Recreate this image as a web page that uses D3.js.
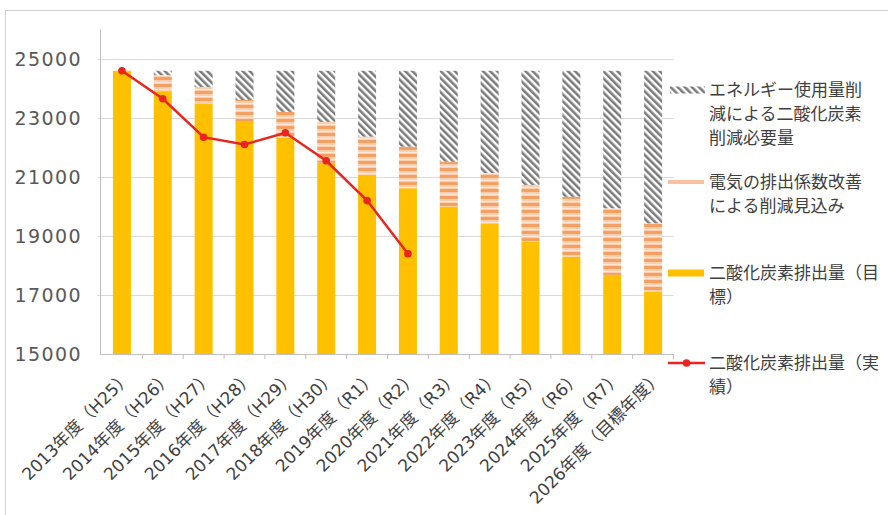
<!DOCTYPE html>
<html>
<head>
<meta charset="utf-8">
<script src="https://cdn.jsdelivr.net/npm/d3@7"></script>
<style>
    body { margin: 0; background: #fff; }
    text { font-family: "DejaVu Sans", "Noto Sans CJK JP", sans-serif; fill: #404040; }
</style>
</head>
<body>
<div id="chartArea"></div>
<script>
// Data

const categories = ["2013年度（H25）", "2014年度（H26）", "2015年度（H27）", "2016年度（H28）",
    "2017年度（H29）", "2018年度（H30）", "2019年度（R1）", "2020年度（R2）", "2021年度（R3）",
    "2022年度（R4）", "2023年度（R5）", "2024年度（R6）", "2025年度（R7）", "2026年度（目標年度）"];

// 二酸化炭素排出量（目標）
const targetEmission = [24600, 23900, 23500, 22870, 22330, 21480, 21070, 20620, 20000, 19430, 18810, 18300, 17680, 17110];
// 電気の排出係数改善による削減見込み
const gridReduction = [0, 550, 550, 740, 880, 1390, 1300, 1410, 1520, 1700, 1920, 2030, 2260, 2320];
// エネルギー使用量削減による二酸化炭素削減必要量
const energyReduction = [0, 150, 550, 990, 1390, 1730, 2230, 2570, 3080, 3470, 3870, 4270, 4660, 5170];
// 二酸化炭素排出量（実績）
const actualEmission = [24600, 23650, 22350, 22100, 22500, 21550, 20200, 18400];

const yTicks = [15000, 17000, 19000, 21000, 23000, 25000];

const legendLabels = [
    ["エネルギー使用量削", "減による二酸化炭素", "削減必要量"],
    ["電気の排出係数改善", "による削減見込み"],
    ["二酸化炭素排出量（目", "標）"],
    ["二酸化炭素排出量（実", "績）"]
];

// Dimensions

const width = 888,
    height = 515,
    plot = {
        left: 101.5,
        right: 673.5,
        top: 29.5,
        bottom: 354
    };

const yellow = "#ffc000",
    red = "#e8251f";

// Scales

const x = d3.scaleBand()
    .domain(categories)
    .range([plot.left, plot.right]);

const y = d3.scaleLinear()
    .domain([15000, 26000])
    .range([plot.bottom, plot.top]);

const yMin = y.domain()[0];
const barWidth = 18;

const rows = categories.map((c, i) => ({
    cat: c,
    target: targetEmission[i],
    grid: gridReduction[i],
    energy: energyReduction[i]
}));

const series = d3.stack().keys(["target", "grid", "energy"])(rows);
const fills = { target: yellow, grid: "url(#stripes)", energy: "url(#hatch)" };

// Svg

const svg = d3.select("#chartArea")
    .append("svg")
    .attr("width", width)
    .attr("height", height);

const defs = svg.append("defs");

const hatch = defs.append("pattern")
    .attr("id", "hatch")
    .attr("patternUnits", "userSpaceOnUse")
    .attr("width", 5)
    .attr("height", 5)
    .attr("patternTransform", "rotate(-45)");
hatch.append("rect").attr("width", 5).attr("height", 5).attr("fill", "#fff");
hatch.append("line")
    .attr("x1", 1.3).attr("x2", 1.3)
    .attr("y1", 0).attr("y2", 5)
    .attr("stroke", "#787878")
    .attr("stroke-width", 2.5);

const stripes = defs.append("pattern")
    .attr("id", "stripes")
    .attr("patternUnits", "userSpaceOnUse")
    .attr("width", 10)
    .attr("height", 7);
stripes.append("rect").attr("width", 10).attr("height", 7).attr("fill", "#fbcfb0");
stripes.append("rect").attr("width", 10).attr("height", 3).attr("fill", "#f4a062");
stripes.append("rect").attr("y", 5).attr("width", 10).attr("height", 1).attr("fill", "#fde9dc");

// Frame

svg.append("rect")
    .attr("x", 5.5)
    .attr("y", 10.5)
    .attr("width", 900)
    .attr("height", 520)
    .attr("fill", "#fff")
    .attr("stroke", "#d0d0d0");

// Grid

svg.append("g")
    .selectAll("line")
    .data(yTicks.slice(1))
    .join("line")
    .attr("x1", plot.left - 4)
    .attr("x2", plot.right)
    .attr("y1", d => Math.round(y(d)) + 0.5)
    .attr("y2", d => Math.round(y(d)) + 0.5)
    .attr("stroke", "#d9d9d9");

// Y axis

svg.append("line")
    .attr("x1", 100.5).attr("x2", 100.5)
    .attr("y1", plot.top).attr("y2", plot.bottom)
    .attr("stroke", "#bfbfbf");

svg.append("g")
    .selectAll("text")
    .data(yTicks)
    .join("text")
    .attr("x", 82)
    .attr("y", d => y(d))
    .attr("dy", "0.36em")
    .attr("text-anchor", "end")
    .style("font-size", "19px")
    .style("letter-spacing", "1.4px")
    .style("fill", "#595959")
    .text(d => d);

// Bars

svg.append("g")
    .selectAll("g")
    .data(series)
    .join("g")
    .attr("fill", d => fills[d.key])
    .selectAll("rect")
    .data(d => d)
    .join("rect")
    .attr("x", d => x(d.data.cat) + x.bandwidth() / 2 - barWidth / 2)
    .attr("y", d => y(d[1]))
    .attr("width", barWidth)
    .attr("height", d => y(Math.max(d[0], yMin)) - y(d[1]));

// X axis

svg.append("line")
    .attr("x1", 100).attr("x2", plot.right)
    .attr("y1", plot.bottom + 0.5).attr("y2", plot.bottom + 0.5)
    .attr("stroke", "#bfbfbf");

svg.append("g")
    .selectAll("line")
    .data(categories)
    .join("line")
    .attr("x1", d => x(d) + x.bandwidth())
    .attr("x2", d => x(d) + x.bandwidth())
    .attr("y1", plot.bottom)
    .attr("y2", plot.bottom + 5)
    .attr("stroke", "#bfbfbf");

svg.append("g")
    .selectAll("text")
    .data(categories)
    .join("text")
    .attr("text-anchor", "end")
    .attr("transform", d => `translate(${x(d) + x.bandwidth() / 2 + 6}, 374) rotate(-45)`)
    .attr("dy", "0.36em")
    .style("font-size", "17px")
    .text(d => d);

// Actual line

const line = d3.line()
    .x((d, i) => x(categories[i]) + x.bandwidth() / 2)
    .y(d => y(d));

svg.append("path")
    .datum(actualEmission)
    .attr("d", line)
    .attr("fill", "none")
    .attr("stroke", red)
    .attr("stroke-width", 2.5);

svg.append("g")
    .selectAll("circle")
    .data(actualEmission)
    .join("circle")
    .attr("cx", (d, i) => x(categories[i]) + x.bandwidth() / 2)
    .attr("cy", d => y(d))
    .attr("r", 3.8)
    .attr("fill", red);

// Legend

const legendTop = [90, 182, 273, 363];
const legend = svg.append("g").attr("id", "legend");

const item = legend.selectAll("g")
    .data(legendLabels)
    .join("g")
    .attr("transform", (d, i) => `translate(0, ${legendTop[i]})`);

item.selectAll("text")
    .data(d => d)
    .join("text")
    .attr("x", 709)
    .attr("y", (d, i) => i * 24)
    .attr("dy", "0.36em")
    .style("font-size", "17px")
    .text(d => d);

item.filter((d, i) => i === 0).append("rect")
    .attr("x", 670).attr("y", -3.5)
    .attr("width", 35).attr("height", 7)
    .attr("fill", "url(#hatch)");

item.filter((d, i) => i === 1).append("rect")
    .attr("x", 668).attr("y", -2)
    .attr("width", 36).attr("height", 4)
    .attr("fill", "#f9c3a2");

item.filter((d, i) => i === 2).append("rect")
    .attr("x", 668).attr("y", -3.5)
    .attr("width", 36).attr("height", 7)
    .attr("fill", yellow);

const redItem = item.filter((d, i) => i === 3);
redItem.append("line")
    .attr("x1", 668).attr("x2", 705)
    .attr("stroke", red)
    .attr("stroke-width", 2.5);
redItem.append("circle")
    .attr("cx", 686.5)
    .attr("r", 3.8)
    .attr("fill", red);
</script>
</body>
</html>
